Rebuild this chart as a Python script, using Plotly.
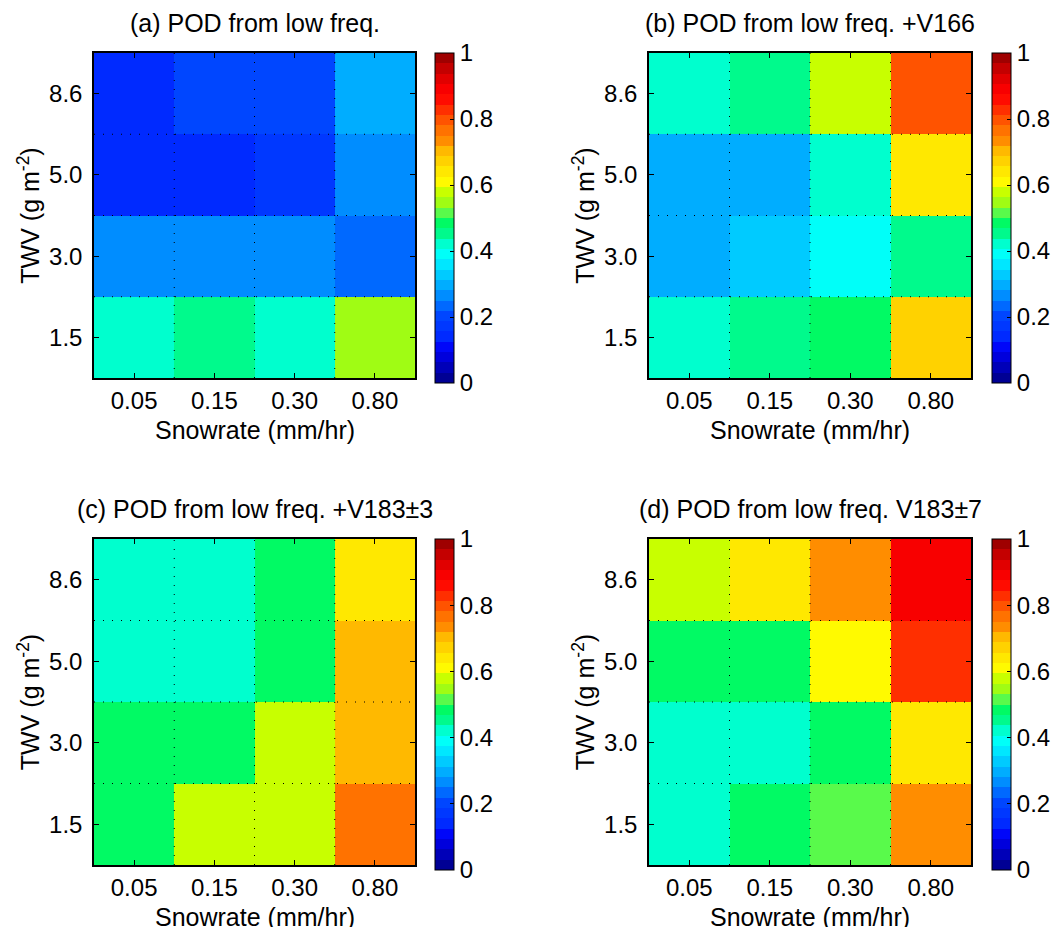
import plotly.graph_objects as go

snowrate_labels = ["0.05", "0.15", "0.30", "0.80"]
twv_labels = ["1.5", "3.0", "5.0", "8.6"]

titles = [
    "(a) POD from low freq.",
    "(b) POD from low freq. +V166",
    "(c) POD from low freq. +V183\u00b13",
    "(d) POD from low freq. V183\u00b17",
]
x_title = "Snowrate (mm/hr)"
y_title = "TWV (g m<sup>-2</sup>)"

# rows: TWV 1.5, 3.0, 5.0, 8.6 ; cols: snowrate 0.05, 0.15, 0.30, 0.80
pod_a = [
    [0.42, 0.46, 0.42, 0.55],
    [0.26, 0.26, 0.27, 0.23],
    [0.14, 0.14, 0.17, 0.26],
    [0.14, 0.20, 0.20, 0.30],
]
pod_b = [
    [0.42, 0.46, 0.48, 0.67],
    [0.30, 0.33, 0.38, 0.46],
    [0.30, 0.31, 0.43, 0.64],
    [0.42, 0.46, 0.58, 0.80],
]
pod_c = [
    [0.48, 0.58, 0.58, 0.77],
    [0.48, 0.48, 0.58, 0.70],
    [0.42, 0.42, 0.48, 0.70],
    [0.42, 0.42, 0.48, 0.64],
]
pod_d = [
    [0.43, 0.48, 0.51, 0.73],
    [0.42, 0.42, 0.48, 0.64],
    [0.48, 0.48, 0.61, 0.83],
    [0.58, 0.64, 0.73, 0.88],
]
panels = [pod_a, pod_b, pod_c, pod_d]

# colormap anchors (jet-like)
anchors = [
    (0.00, (0, 0, 130)),
    (0.10, (0, 0, 245)),
    (0.125, (0, 20, 255)),
    (0.14, (0, 42, 255)),
    (0.17, (0, 55, 255)),
    (0.20, (0, 66, 255)),
    (0.23, (0, 100, 255)),
    (0.26, (0, 135, 255)),
    (0.30, (0, 176, 255)),
    (0.33, (0, 205, 255)),
    (0.36, (0, 232, 255)),
    (0.39, (0, 255, 250)),
    (0.42, (0, 255, 210)),
    (0.453, (0, 250, 140)),
    (0.484, (0, 250, 100)),
    (0.516, (90, 250, 75)),
    (0.547, (160, 252, 20)),
    (0.578, (200, 255, 0)),
    (0.609, (255, 250, 0)),
    (0.64, (255, 232, 0)),
    (0.672, (255, 210, 0)),
    (0.703, (255, 185, 0)),
    (0.734, (255, 141, 0)),
    (0.77, (255, 110, 0)),
    (0.80, (255, 80, 0)),
    (0.83, (255, 45, 0)),
    (0.87, (255, 0, 0)),
    (0.90, (245, 0, 0)),
    (0.95, (200, 0, 0)),
    (1.00, (140, 0, 0)),
]

def interp(v):
    for (a, ca), (b, cb) in zip(anchors[:-1], anchors[1:]):
        if a <= v <= b:
            t = (v - a) / (b - a)
            return tuple(int(round(ca[k] + t * (cb[k] - ca[k]))) for k in range(3))
    return anchors[-1][1]

N = 32
colorscale = []
for i in range(N):
    c = interp((i + 0.5) / N)
    col = "rgb(%d,%d,%d)" % c
    colorscale.append([i / N, col])
    colorscale.append([(i + 1) / N, col])

FONT = "Liberation Sans, Arial, Helvetica, sans-serif"
W, H = 1060, 927

# pixel layout of plot areas: (x0, x1, y_top, y_bottom)
boxes = [
    (94, 415, 53, 378),
    (649, 971, 53, 378),
    (94, 415, 539, 865),
    (649, 971, 539, 865),
]
cbar_x = [435, 992, 435, 992]

fig = go.Figure()
xs = list(range(len(snowrate_labels)))
ys = list(range(len(twv_labels)))

for i, (z, title, box) in enumerate(zip(panels, titles, boxes)):
    x0, x1, yt, yb = box
    n = "" if i == 0 else str(i + 1)
    fig.add_trace(go.Heatmap(
        z=z, x=xs, y=ys, zmin=0, zmax=1, colorscale=colorscale,
        xaxis="x" + n, yaxis="y" + n,
        colorbar=dict(
            x=cbar_x[i] / W, xanchor="left", xref="paper",
            y=1 - yt / H, yanchor="top", lenmode="pixels", len=(yb - yt) + 5,
            thickness=19, thicknessmode="pixels",
            outlinecolor="black", outlinewidth=1,
            tickvals=[0, 0.2, 0.4, 0.6, 0.8, 1],
            ticktext=["0", "0.2", "0.4", "0.6", "0.8", "1"],
            ticks="inside", ticklen=4, tickcolor="black",
            tickfont=dict(family=FONT, size=24, color="black"),
            xpad=0, ypad=0,
        ),
    ))
    axx = dict(
        domain=[x0 / W, x1 / W], anchor="y" + n, range=[-0.5, len(xs) - 0.5],
        tickvals=xs, ticktext=snowrate_labels, ticks="inside", ticklen=5,
        tickcolor="black", showline=True, linecolor="black", linewidth=1.5,
        mirror="allticks", showgrid=False, zeroline=False,
        tickfont=dict(family=FONT, size=24, color="black"),
        ticklabelstandoff=0,
    )
    axy = dict(
        domain=[1 - yb / H, 1 - yt / H], anchor="x" + n, range=[-0.5, len(ys) - 0.5],
        tickvals=ys, ticktext=twv_labels, ticks="inside", ticklen=5,
        tickcolor="black", showline=True, linecolor="black", linewidth=1.5,
        mirror="allticks", showgrid=False, zeroline=False,
        tickfont=dict(family=FONT, size=24, color="black"),
        ticklabelstandoff=5,
        title=dict(text=y_title, font=dict(family=FONT, size=25, color="black"), standoff=2),
    )
    fig.layout["xaxis" + n] = axx
    fig.layout["yaxis" + n] = axy

    # dotted grid at cell boundaries
    for k in range(len(xs) - 1):
        fig.add_shape(type="line", xref="x" + n, yref="y" + n,
                      x0=xs[k] + 0.5, x1=xs[k] + 0.5, y0=-0.5, y1=len(ys) - 0.5,
                      line=dict(color="black", width=1, dash="1px,8px"), layer="above")
    for k in range(len(ys) - 1):
        fig.add_shape(type="line", xref="x" + n, yref="y" + n,
                      y0=ys[k] + 0.5, y1=ys[k] + 0.5, x0=-0.5, x1=len(xs) - 0.5,
                      line=dict(color="black", width=1, dash="1px,8px"), layer="above")

    fig.add_annotation(
        text=title, xref="paper", yref="paper",
        x=(x0 + x1) / 2 / W, y=1 - (yt - 30) / H, xanchor="center", yanchor="middle",
        showarrow=False, font=dict(family=FONT, size=25, color="black"),
    )
    fig.add_annotation(
        text=x_title, xref="paper", yref="paper",
        x=(x0 + x1) / 2 / W, y=1 - (yb + 52) / H, xanchor="center", yanchor="middle",
        showarrow=False, font=dict(family=FONT, size=25, color="black"),
    )

fig.update_layout(
    width=W, height=H, margin=dict(l=0, r=0, t=0, b=0),
    paper_bgcolor="white", plot_bgcolor="white", showlegend=False,
)

fig.write_html(
    "out.html",
    config={"displayModeBar": False},
    post_script="document.body.style.margin='0px';document.body.style.overflow='hidden';",
)
